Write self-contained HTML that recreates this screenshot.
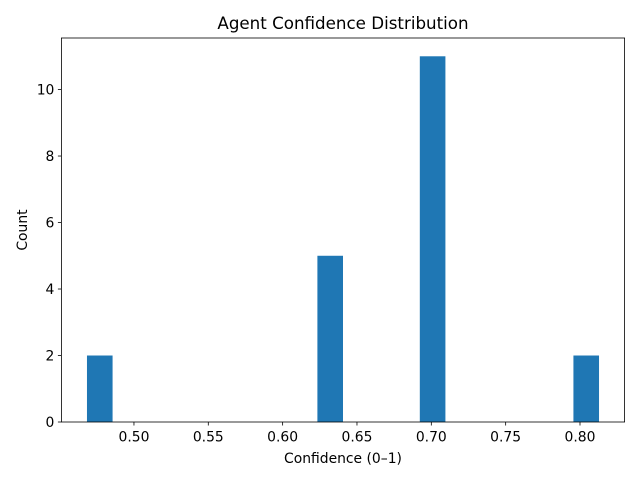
<!DOCTYPE html>
<html><head><meta charset="utf-8"><style>body{margin:0;background:#fff}svg{display:block;font-family:"DejaVu Sans","Liberation Sans",sans-serif}</style></head>
<body>
<svg id="c" width="640" height="480"></svg>
<script>
const binStart = 0.4684;
const binWidth = 0.01722;
const binCounts = [2,0,0,0,0,0,0,0,0,5,0,0,0,11,0,0,0,0,0,2];
const xTicks = [0.50,0.55,0.60,0.65,0.70,0.75,0.80];
const xTickLabels = ["0.50","0.55","0.60","0.65","0.70","0.75","0.80"];
const yTicks = [0,2,4,6,8,10];
const L=61.4,R=624.6,T=38,B=422;
const xmin=0.4512,xmax=0.83,ymax=11.55;
const X=v=>L+(v-xmin)/(xmax-xmin)*(R-L);
const Y=v=>B-v/ymax*(B-T);
const svg=document.getElementById('c');
const NS='http://www.w3.org/2000/svg';
function mk(t,a,txt){const e=document.createElementNS(NS,t);for(const k in a)e.setAttribute(k,a[k]);if(txt!==undefined)e.textContent=txt;svg.appendChild(e);return e;}
binCounts.forEach((c,i)=>{if(!c)return;const x0=X(binStart+i*binWidth),x1=X(binStart+(i+1)*binWidth);
const r=mk('rect',{x:x0,y:Y(c),width:x1-x0,height:B-Y(c),fill:'#1f77b4'});

});
const f=mk('rect',{x:L,y:T,width:R-L,height:B-T,fill:'none',stroke:'#000','stroke-width':0.8});

xTicks.forEach((v,i)=>{const x=X(v);mk('line',{x1:x,x2:x,y1:B,y2:B+3.5,stroke:'#000','stroke-width':0.8});
const t=mk('text',{x:x,y:B+19.5,'font-size':13.9,'text-anchor':'middle'},xTickLabels[i]);
});
yTicks.forEach(v=>{const y=Y(v);mk('line',{x1:L-3.5,x2:L,y1:y,y2:y,stroke:'#000','stroke-width':0.8});
const t=mk('text',{x:L-7,y:y+5,'font-size':13.9,'text-anchor':'end'},String(v));
});
let t=mk('text',{x:(L+R)/2,y:463,'font-size':13.9,'text-anchor':'middle'},'Confidence (0–1)');

t=mk('text',{x:27,y:(T+B)/2,'font-size':13.9,'text-anchor':'middle',transform:'rotate(-90 27 '+(T+B)/2+')'},'Count');

t=mk('text',{x:(L+R)/2,y:29,'font-size':16.7,'text-anchor':'middle'},'Agent Confidence Distribution');

</script>
</body></html>
